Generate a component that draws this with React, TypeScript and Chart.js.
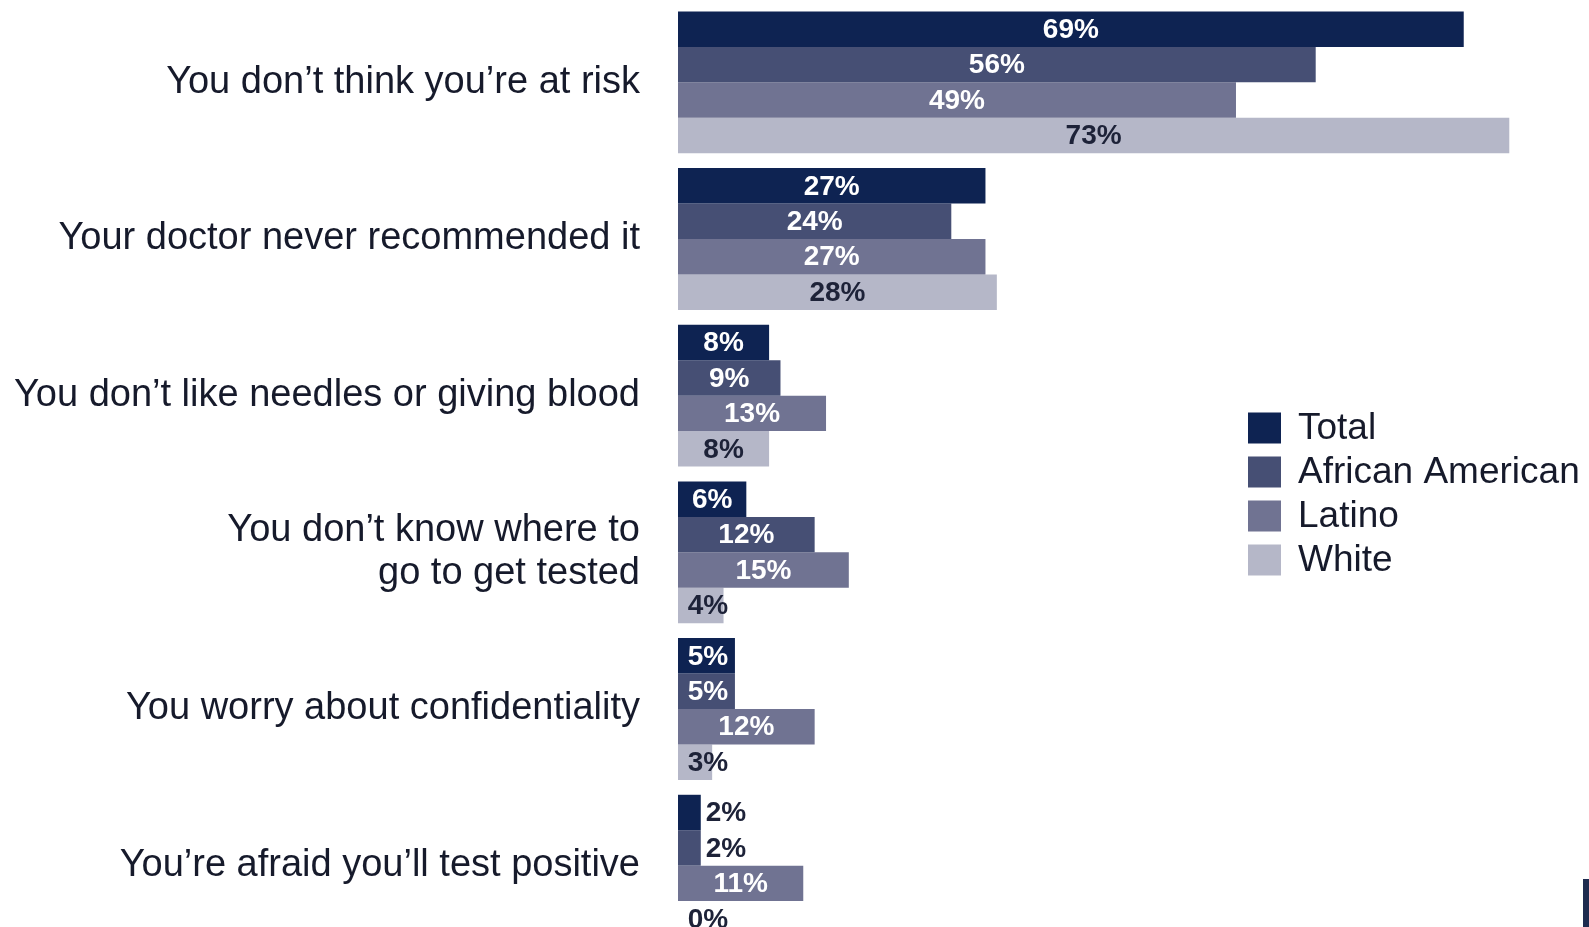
import React, { useEffect, useRef } from "react";
import { Chart, registerables } from "chart.js";

Chart.register(...registerables);

const categories: (string | string[])[] = [
  "You don’t think you’re at risk",
  "Your doctor never recommended it",
  "You don’t like needles or giving blood",
  ["You don’t know where to", "go to get tested"],
  "You worry about confidentiality",
  "You’re afraid you’ll test positive",
];

const seriesNames = ["Total", "African American", "Latino", "White"];
const totalValues = [69, 27, 8, 6, 5, 2];
const africanAmericanValues = [56, 24, 9, 12, 5, 2];
const latinoValues = [49, 27, 13, 15, 12, 11];
const whiteValues = [73, 28, 8, 4, 3, 0];

const seriesColors = ["#0e2352", "#464f74", "#707392", "#b5b7c8"];
const labelColors = ["#ffffff", "#ffffff", "#ffffff", "#1d2238"];
const darkText = "#1d2238";
const xMax = 80;
const FONT = "'Liberation Sans', Arial, Helvetica, sans-serif";

const valueLabelPlugin = {
  id: "valueLabels",
  afterDatasetsDraw(chart: any) {
    const ctx = chart.ctx;
    const xScale = chart.scales.x;
    const zero = xScale.getPixelForValue(0);
    const minCenter = zero + 30;
    ctx.save();
    ctx.font = `bold 28px ${FONT}`;
    ctx.textBaseline = "middle";
    chart.data.datasets.forEach((ds: any, di: number) => {
      const meta = chart.getDatasetMeta(di);
      meta.data.forEach((bar: any, i: number) => {
        const v = ds.data[i];
        const text = `${v}%`;
        const end = bar.x;
        if (v > 0 && v <= 2) {
          ctx.textAlign = "left";
          ctx.fillStyle = darkText;
          ctx.fillText(text, end + 5, bar.y + 1);
        } else {
          const cx = Math.max((zero + end) / 2, minCenter);
          ctx.textAlign = "center";
          ctx.fillStyle = v < 3 ? darkText : labelColors[di];
          ctx.fillText(text, cx, bar.y + 1);
        }
      });
    });
    ctx.restore();
  },
};

const customLegendPlugin = {
  id: "customLegend",
  afterDraw(chart: any) {
    const ctx = chart.ctx;
    const boxX = 1248;
    const boxW = 33;
    const boxH = 31;
    const firstCenter = 428;
    const step = 44;
    const textX = 1298;
    ctx.save();
    ctx.font = `37px ${FONT}`;
    ctx.textBaseline = "middle";
    ctx.textAlign = "left";
    chart.data.datasets.forEach((ds: any, i: number) => {
      const cy = firstCenter + i * step;
      ctx.fillStyle = ds.backgroundColor;
      ctx.fillRect(boxX, cy - boxH / 2, boxW, boxH);
      ctx.fillStyle = "#161a2b";
      ctx.fillText(ds.label, textX, cy + 1);
    });
    ctx.restore();
  },
};

export default function App() {
  const canvasRef = useRef<HTMLCanvasElement | null>(null);

  useEffect(() => {
    if (!canvasRef.current) return;
    const seriesValues = [totalValues, africanAmericanValues, latinoValues, whiteValues];
    const chart = new Chart(canvasRef.current, {
      type: "bar",
      data: {
        labels: categories,
        datasets: seriesNames.map((name, i) => ({
          label: name,
          data: seriesValues[i],
          backgroundColor: seriesColors[i],
          borderWidth: 0,
          categoryPercentage: 0.905,
          barPercentage: 1.0,
        })),
      },
      options: {
        indexAxis: "y",
        responsive: false,
        animation: false,
        layout: { padding: { top: 4, bottom: 0, left: 0, right: 0 } },
        plugins: {
          legend: { display: false },
          tooltip: { enabled: false },
        },
        scales: {
          x: {
            display: false,
            min: 0,
            max: xMax,
          },
          y: {
            type: "category",
            grid: { display: false, drawTicks: false },
            border: { display: false },
            ticks: {
              color: "#161a2b",
              padding: 38,
              autoSkip: false,
              font: { family: FONT, size: 38, lineHeight: 1.13 },
            },
            afterFit: (scale: any) => {
              scale.width = 678;
              scale.paddingTop = 0;
              scale.paddingBottom = 0;
            },
          },
        },
      },
      plugins: [valueLabelPlugin, customLegendPlugin],
    });
    return () => chart.destroy();
  }, []);

  return (
    <div
      style={{
        position: "fixed",
        top: 0,
        left: 0,
        width: 1589,
        height: 927,
        overflow: "hidden",
        background: "#ffffff",
      }}
    >
      <canvas ref={canvasRef} width={1589} height={944} style={{ display: "block" }} />
      <div
        style={{
          position: "absolute",
          right: 0,
          bottom: 0,
          width: 6,
          height: 48,
          background: "#1e2b4f",
        }}
      />
    </div>
  );
}
